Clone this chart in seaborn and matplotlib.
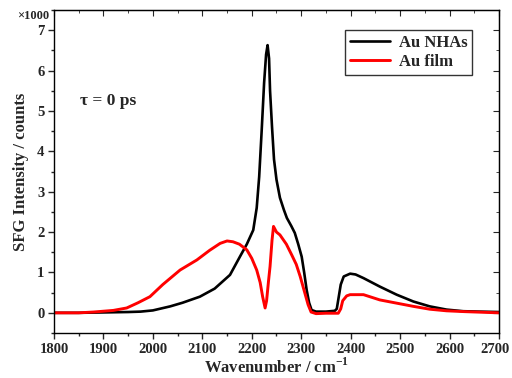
import matplotlib
matplotlib.use("Agg")
import matplotlib.pyplot as plt
import seaborn as sns
import pandas as pd
from matplotlib.ticker import MultipleLocator
from matplotlib.transforms import ScaledTranslation

# Data (intensity in units of x1000 counts)
nhas_x = [1800, 1850, 1900, 1950, 1975, 2000, 2035, 2060, 2095, 2125, 2156, 2176, 2190,
          2203, 2210, 2215, 2220, 2225, 2229, 2232, 2235, 2237, 2241, 2245, 2250, 2257,
          2265, 2271, 2280, 2287, 2294, 2301, 2306, 2311, 2316, 2321, 2330, 2350, 2368,
          2372, 2376, 2380, 2386, 2399, 2410, 2426, 2459, 2493, 2527, 2560, 2594, 2628,
          2660, 2700]
nhas_y = [0.0, 0.0, 0.01, 0.02, 0.03, 0.06, 0.16, 0.25, 0.40, 0.60, 0.94, 1.39, 1.70,
          2.05, 2.60, 3.37, 4.50, 5.70, 6.40, 6.63, 6.30, 5.50, 4.60, 3.80, 3.30, 2.85,
          2.55, 2.35, 2.15, 1.98, 1.70, 1.39, 1.00, 0.57, 0.25, 0.07, 0.03, 0.03, 0.05,
          0.10, 0.40, 0.70, 0.90, 0.97, 0.95, 0.86, 0.65, 0.45, 0.28, 0.16, 0.08, 0.04,
          0.03, 0.02]

film_x = [1800, 1850, 1880, 1920, 1947, 1970, 1994, 2020, 2055, 2089, 2115, 2136, 2150,
          2162, 2175, 2190, 2200, 2210, 2217, 2222, 2227, 2230, 2234, 2237, 2241, 2244,
          2250, 2257, 2270, 2281, 2290, 2298, 2306, 2314, 2320, 2330, 2350, 2375, 2380,
          2384, 2392, 2399, 2426, 2459, 2493, 2527, 2560, 2594, 2630, 2700]
film_y = [0.0, 0.0, 0.02, 0.06, 0.12, 0.25, 0.40, 0.70, 1.06, 1.31, 1.55, 1.72, 1.78,
          1.76, 1.70, 1.56, 1.35, 1.06, 0.75, 0.40, 0.12, 0.30, 0.80, 1.15, 1.80, 2.14,
          2.00, 1.93, 1.70, 1.43, 1.20, 0.90, 0.55, 0.20, 0.02, -0.02, -0.01, -0.01, 0.10,
          0.30, 0.42, 0.45, 0.45, 0.32, 0.24, 0.16, 0.09, 0.05, 0.03, 0.0]

x_ticks = [1800, 1900, 2000, 2100, 2200, 2300, 2400, 2500, 2600, 2700]
x_tick_labels = [str(t) for t in x_ticks]

series_labels = ["Au NHAs", "Au film"]
series_colors = ["black", "red"]

sns.set_style("ticks")
plt.rcParams["font.family"] = ["Liberation Serif", "DejaVu Serif"]
plt.rcParams["font.weight"] = "bold"
plt.rcParams["mathtext.fontset"] = "custom"
plt.rcParams["mathtext.rm"] = "Liberation Serif:bold"
plt.rcParams["mathtext.bf"] = "Liberation Serif:bold"

fig = plt.figure(figsize=(5.12, 3.78), dpi=100)
ax = fig.add_axes([0.1055, 0.119, 0.869, 0.8545])

df_n = pd.DataFrame({"x": nhas_x, "y": nhas_y})
df_f = pd.DataFrame({"x": film_x, "y": film_y})
sns.lineplot(data=df_n, x="x", y="y", ax=ax, color=series_colors[0], lw=1.9,
             label=series_labels[0])
sns.lineplot(data=df_f, x="x", y="y", ax=ax, color=series_colors[1], lw=2.1,
             label=series_labels[1])

ax.set_xlim(1800, 2700)
ax.set_ylim(-0.5, 7.5)
ax.set_xticks(x_ticks, x_tick_labels)
ax.xaxis.set_minor_locator(MultipleLocator(50))
ax.yaxis.set_major_locator(MultipleLocator(1))
ax.yaxis.set_minor_locator(MultipleLocator(0.5))
ax.tick_params(which="major", direction="out", length=4, width=1, labelsize=10.5, pad=3)
ax.tick_params(which="minor", direction="out", length=2.5, width=1)
for lab in ax.get_xticklabels() + ax.get_yticklabels():
    lab.set_fontweight("bold")

sx = ax.secondary_xaxis("top")
sx.xaxis.set_major_locator(MultipleLocator(100))
sx.xaxis.set_minor_locator(MultipleLocator(50))
sx.tick_params(which="major", direction="in", length=4, labeltop=False)
sx.tick_params(which="minor", direction="in", length=2.5)
sy = ax.secondary_yaxis("right")
sy.yaxis.set_major_locator(MultipleLocator(1))
sy.yaxis.set_minor_locator(MultipleLocator(0.5))
sy.tick_params(which="major", direction="in", length=4, labelright=False)
sy.tick_params(which="minor", direction="in", length=2.5)

for s in ax.spines.values():
    s.set_linewidth(1.0)
    s.set_color("black")

ax.set_xlabel("Wavenumber / cm$^{\\mathbf{-1}}$", fontsize=12, fontweight="bold", labelpad=1)
ax.set_ylabel("SFG Intensity / counts", fontsize=12, fontweight="bold", labelpad=6)

ax.text(-0.01, 0.98, "\u00d71000", transform=ax.transAxes, ha="right", va="center",
        fontsize=9, fontweight="bold")
ax.text(1853, 5.24, "\u03c4 = 0 ps", ha="left", va="center", fontsize=12.5, fontweight="bold")

leg = ax.legend(loc="upper right", bbox_to_anchor=(0.94, 0.938), borderaxespad=0,
                frameon=True, fancybox=False, edgecolor="black",
                handlelength=2.4, borderpad=0.3, labelspacing=0.15, handletextpad=0.5,
                prop={"weight": "bold", "size": 12})
leg.get_frame().set_linewidth(1.0)

fig.canvas.draw()
for lbl in ax.xaxis.get_majorticklabels():
    if lbl.get_text() == "2700":
        lbl.set_transform(lbl.get_transform() + ScaledTranslation(-3 / 72, 0, fig.dpi_scale_trans))

fig.savefig("out.png", dpi=100)
